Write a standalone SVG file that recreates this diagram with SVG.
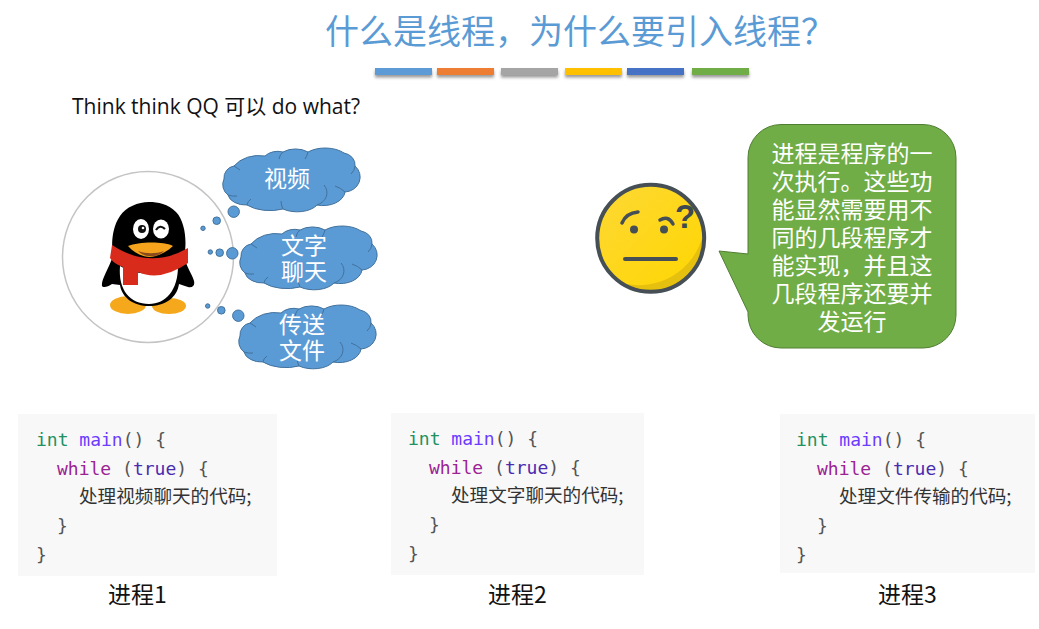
<svg xmlns="http://www.w3.org/2000/svg" width="1039" height="629" viewBox="0 0 1039 629">
<style>
text{font-family:"Noto Sans CJK SC","Liberation Sans",sans-serif}
.w{fill:#fff;font-size:23px;text-anchor:middle}
.c{stroke:#41719c;stroke-width:1;fill:#5b9bd5}
.l{fill:none;stroke:#41719c;stroke-width:1}
.code{font-family:"DejaVu Sans Mono","Noto Sans CJK SC",monospace;font-size:18px;fill:#555}
.zh{font-family:"Noto Sans CJK SC",sans-serif;font-size:18.6px;fill:#333}
.k{fill:#219161}.f{fill:#6b3bff}.p{fill:#9b2393}.t{fill:#4b2bb0}
.bg{fill:#f8f8f8}
.cap{font-size:23px;fill:#111}
.bar{filter:url(#sh)}
.ln{font-size:23px;fill:#fff;text-anchor:middle}
</style>
<defs>
<filter id="sh" x="-20%" y="-50%" width="140%" height="250%"><feDropShadow dx="0" dy="2.5" stdDeviation="1.5" flood-color="#000" flood-opacity=".4"/></filter>
<linearGradient id="yl" x1="0" y1="0" x2="1" y2="1"><stop offset="0" stop-color="#fdd835"/><stop offset="1" stop-color="#ffd600"/></linearGradient>
<g id="cloud">
<path class="c" d="M1,30A12,12 0 0 1 11,17A30,24 0 0 1 42,7A16,12 0 0 1 60,3A20,14 0 0 1 85,3A26,16 0 0 1 121,4A14,12 0 0 1 132,17A16,15 0 0 1 122,43A22,15 0 0 1 94,56A22,12 0 0 1 60,60A30,16 0 0 1 24,56A18,12 0 0 1 5,46A13,13 0 0 1 1,30Z"/>
<path class="l" d="M5,46A14,10 0 0 0 14,47M24,56A16,10 0 0 1 28,50M60,60Q58,56 58,52M94,56A15,13 0 0 0 101,36M122,43Q118,39 112,37M132,17A12,12 0 0 1 128,25M85,3Q84,7 82,10M60,3Q57,5 56,10M11,17Q14,19 17,21"/>
</g>
</defs>
<rect width="1039" height="629" fill="#fff"/>
<g id="title">
<text x="325" y="44" font-size="34" fill="#5b9bd5">什么是线程&#xFF0C;为什么要引入线程&#xFF1F;</text>
<rect class="bar" x="375" y="68" width="57" height="7" fill="#5b9bd5"/>
<rect class="bar" x="437" y="68" width="57" height="7" fill="#ed7d31"/>
<rect class="bar" x="501" y="68" width="57" height="7" fill="#a5a5a5"/>
<rect class="bar" x="565" y="68" width="57" height="7" fill="#ffc000"/>
<rect class="bar" x="627" y="68" width="57" height="7" fill="#4472c4"/>
<rect class="bar" x="692" y="68" width="57" height="7" fill="#70ad47"/>
</g>
<text id="subtitle" x="72" y="114" font-size="21" fill="#111" style="font-family:'Open Sans','Noto Sans CJK SC',sans-serif">Think think QQ 可以 do what?</text>
<g id="qq">
<circle cx="148" cy="257" r="85.5" fill="#fff" stroke="#c4c4c4" stroke-width="1.5"/>
<ellipse cx="128" cy="305" rx="18" ry="9" fill="#f5a81c"/>
<ellipse cx="169" cy="306" rx="17" ry="8" fill="#f5a81c"/>
<path d="M113,256C108,270 101,280 102,286C103,288 108,287 112,284L120,285C122,298 134,306 149,306C165,306 177,298 179,284L188,287C193,288 195,285 194,281C192,274 186,266 184,256C187,245 186,222 176,212C168,204 158,202 149,202C138,202 126,207 120,216C112,227 111,245 113,256Z" fill="#000"/>
<path d="M120,266C118,290 130,304 149,304C166,304 178,290 178,266C160,276 136,276 120,266Z" fill="#fff"/>
<path d="M112,245Q150,270 188,248L188,263Q160,282 138,272L138,285L123,285L123,267Q114,264 110,258Z" fill="#d92b1c"/>
<path d="M128,246C138,242 162,241 173,246C166,253 155,257 150,257C143,257 134,253 128,246Z" fill="#f5a21c"/>
<path d="M138,251C146,254 156,254 164,251C158,258 144,258 138,251Z" fill="#8a4a1c"/>
<ellipse cx="141" cy="229" rx="8" ry="10" fill="#fff"/>
<ellipse cx="161" cy="229" rx="8" ry="9.500" fill="#fff"/>
<circle cx="142" cy="229" r="4" fill="#111"/><circle cx="143" cy="228" r="1.300" fill="#fff"/>
<path d="M156,230Q160,224 165,229" fill="none" stroke="#111" stroke-width="2.2"/>
</g>
<g id="cloud-video">
<use href="#cloud" x="223" y="149"/>
<circle class="c" cx="233.7" cy="211.7" r="5.7"/><circle class="c" cx="216.7" cy="220.7" r="3.8"/><circle class="c" cx="203" cy="228.3" r="2.2"/>
<text class="w" x="287" y="187">视频</text>
</g>
<g id="cloud-chat">
<use href="#cloud" x="240" y="227"/>
<circle class="c" cx="232.3" cy="253.3" r="5.7"/><circle class="c" cx="219.7" cy="252.7" r="3.8"/><circle class="c" cx="210.3" cy="252" r="2.2"/>
<text class="w"><tspan x="304" y="254">文字</tspan><tspan x="304" y="280">聊天</tspan></text>
</g>
<g id="cloud-file">
<use href="#cloud" x="239" y="306"/>
<circle class="c" cx="238.3" cy="315.7" r="5.7"/><circle class="c" cx="221.3" cy="310.3" r="3.8"/><circle class="c" cx="207.7" cy="306" r="2.2"/>
<text class="w"><tspan x="302" y="333">传送</tspan><tspan x="302" y="359">文件</tspan></text>
</g>
<g id="face">
<circle cx="650.7" cy="238.3" r="53.5" fill="url(#yl)"/>
<path d="M622,283A53.500,53.500 0 0 0 703,235A66,66 0 0 1 622,283Z" fill="#e6c00f"/>
<circle cx="650.7" cy="238.3" r="53.5" fill="none" stroke="#454f55" stroke-width="4"/>
<path d="M622,223Q626,213 638,212M660,220Q668,215 673,224" fill="none" stroke="#454f55" stroke-width="3.5" stroke-linecap="round"/>
<circle cx="634" cy="229.5" r="4" fill="#454f55"/><circle cx="664" cy="229.5" r="4" fill="#454f55"/>
<path d="M625,259H676" stroke="#454f55" stroke-width="4" stroke-linecap="round"/>
<text x="675" y="228" font-size="33" font-weight="700" fill="#3f4a50" style="font-family:'Liberation Sans',sans-serif">?</text>
</g>
<g id="callout">
<path d="M781,124.500H923A33,33 0 0 1 956,157.500V315A33,33 0 0 1 923,348H781A33,33 0 0 1 748,315V312L719,251L748,254V157.500A33,33 0 0 1 781,124.500Z" fill="#70ad47" stroke="#507e32"/>
<text class="ln"><tspan x="852" y="162">进程是程序的一</tspan><tspan x="852" y="190">次执行。这些功</tspan><tspan x="852" y="218">能显然需要用不</tspan><tspan x="852" y="246">同的几段程序才</tspan><tspan x="852" y="274">能实现&#xFF0C;并且这</tspan><tspan x="852" y="302">几段程序还要并</tspan><tspan x="852" y="330">发运行</tspan></text>
</g>
<g id="code1">
<rect class="bg" x="18" y="414" width="259" height="162"/>
<text class="code" x="36" y="446"><tspan class="k">int</tspan> <tspan class="f">main</tspan>() {</text>
<text class="code" x="57" y="475"><tspan class="p">while</tspan> (<tspan class="t">true</tspan>) {</text>
<text class="zh" x="79" y="503">处理视频聊天的代码;</text>
<text class="code" x="57" y="532">}</text>
<text class="code" x="36" y="561">}</text>
</g>
<text id="cap1" class="cap" x="108" y="603">进程1</text>
<g id="code2">
<rect class="bg" x="391" y="413" width="253" height="162"/>
<text class="code" x="408" y="445"><tspan class="k">int</tspan> <tspan class="f">main</tspan>() {</text>
<text class="code" x="429" y="474"><tspan class="p">while</tspan> (<tspan class="t">true</tspan>) {</text>
<text class="zh" x="451" y="502">处理文字聊天的代码;</text>
<text class="code" x="429" y="531">}</text>
<text class="code" x="408" y="560">}</text>
</g>
<text id="cap2" class="cap" x="488" y="603">进程2</text>
<g id="code3">
<rect class="bg" x="780" y="414" width="255" height="159"/>
<text class="code" x="796" y="446"><tspan class="k">int</tspan> <tspan class="f">main</tspan>() {</text>
<text class="code" x="817" y="475"><tspan class="p">while</tspan> (<tspan class="t">true</tspan>) {</text>
<text class="zh" x="839" y="503">处理文件传输的代码;</text>
<text class="code" x="817" y="532">}</text>
<text class="code" x="796" y="561">}</text>
</g>
<text id="cap3" class="cap" x="878" y="603">进程3</text>
<g id="connectors"/>
</svg>
